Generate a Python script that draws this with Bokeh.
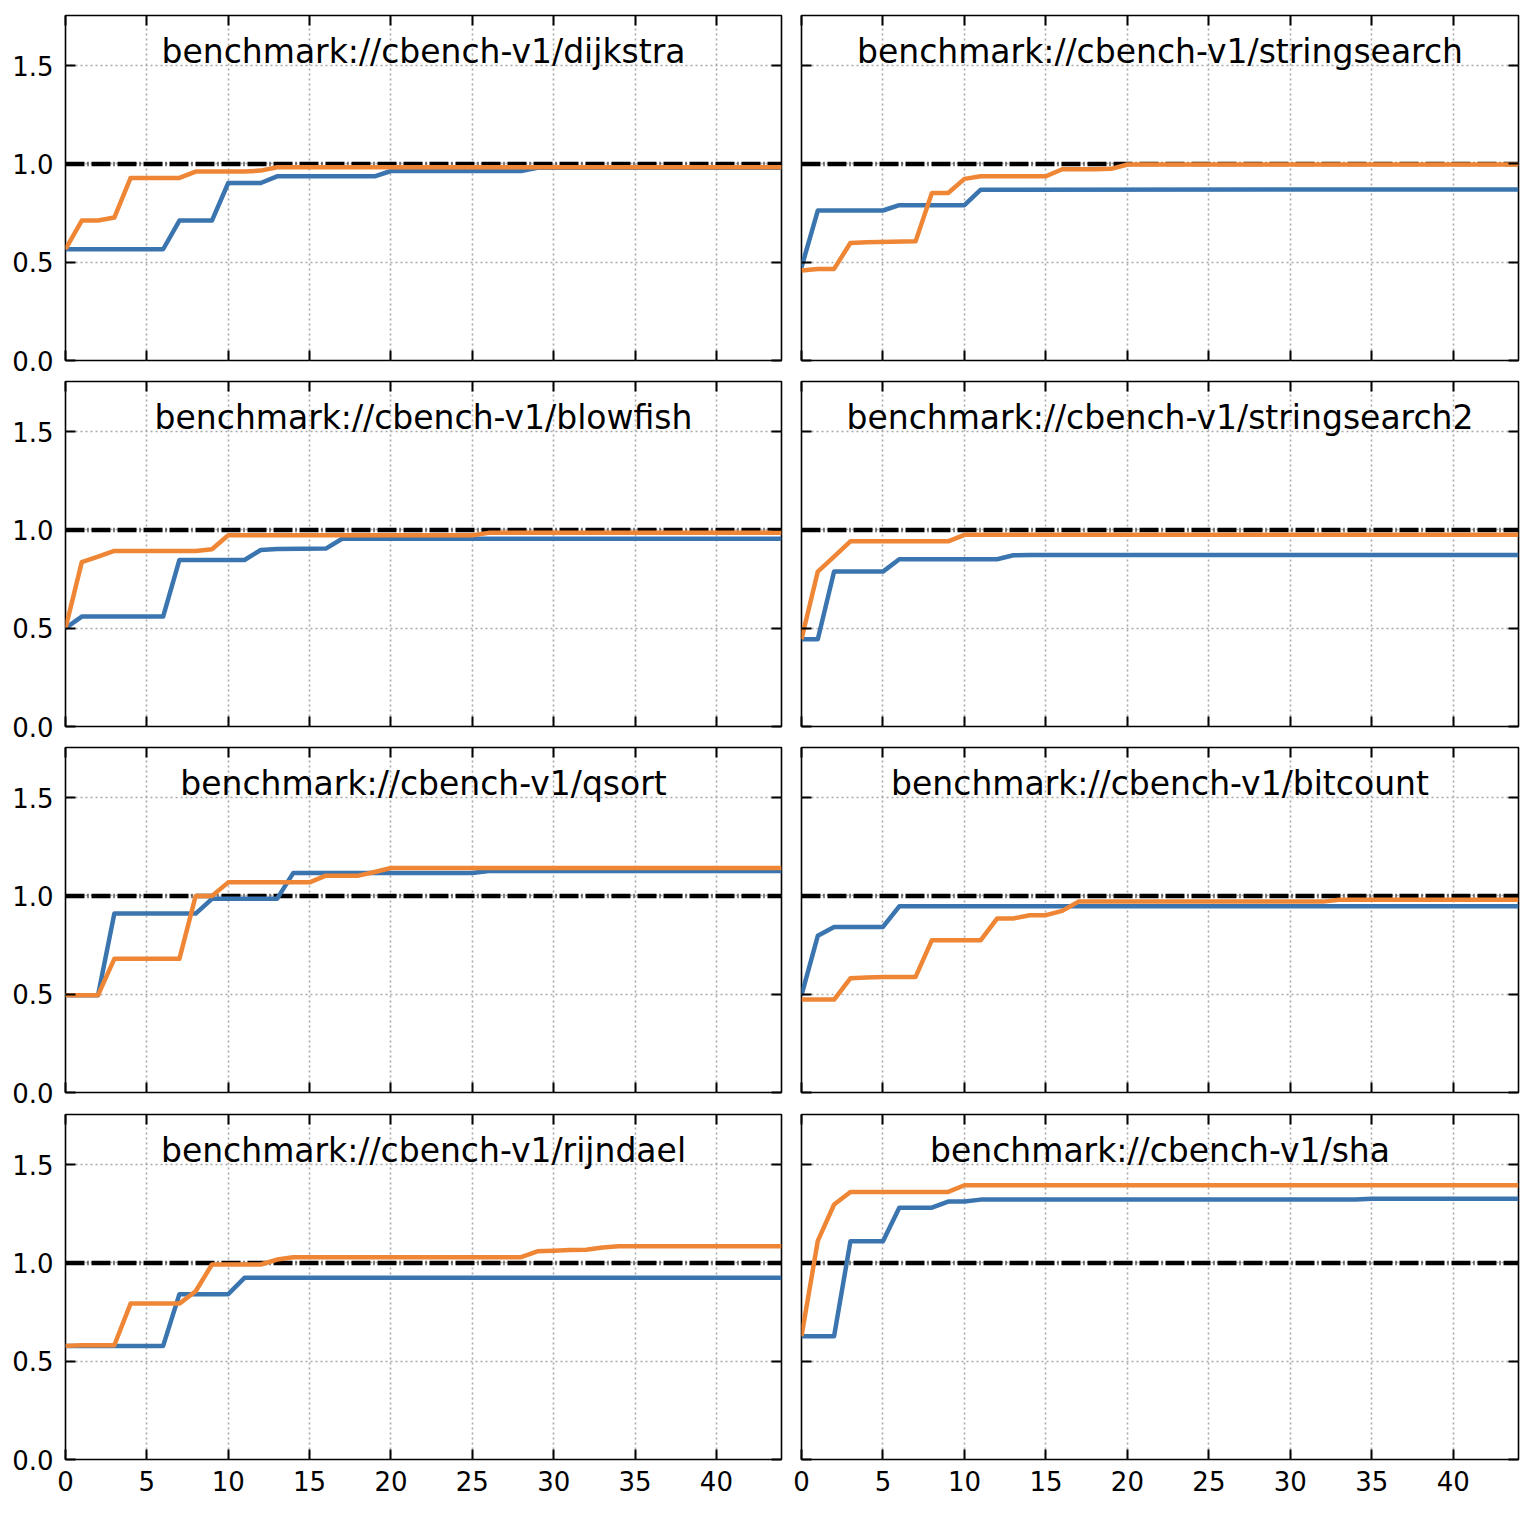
from bokeh.plotting import figure
from bokeh.models import (LinearAxis, FixedTicker, CustomJSTickFormatter, PrintfTickFormatter,
                          Label, Range1d, Span, Grid)
from bokeh.layouts import column, row
from bokeh.embed import file_html
from bokeh.resources import INLINE

FONT = "DejaVu Sans"
BLUE = "#3b75af"
ORANGE = "#ef8636"

X_TICKS = [0, 5, 10, 15, 20, 25, 30, 35, 40]
Y_TICKS = [0.0, 0.5, 1.0, 1.5]

# ---- data (x = step index, y = value), breakpoints ----
names = [
    "benchmark://cbench-v1/dijkstra",
    "benchmark://cbench-v1/stringsearch",
    "benchmark://cbench-v1/blowfish",
    "benchmark://cbench-v1/stringsearch2",
    "benchmark://cbench-v1/qsort",
    "benchmark://cbench-v1/bitcount",
    "benchmark://cbench-v1/rijndael",
    "benchmark://cbench-v1/sha",
]

dijkstra_blue_x = [0, 6, 7, 9, 10, 12, 13, 19, 20, 28, 29, 44]
dijkstra_blue_y = [0.566, 0.566, 0.712, 0.712, 0.903, 0.903, 0.937, 0.937, 0.964, 0.964, 0.98, 0.98]
dijkstra_orange_x = [0, 1, 2, 3, 4, 7, 8, 11, 12, 13, 44]
dijkstra_orange_y = [0.566, 0.712, 0.712, 0.727, 0.929, 0.929, 0.961, 0.961, 0.966, 0.983, 0.983]

stringsearch_blue_x = [0, 1, 5, 6, 10, 11, 44]
stringsearch_blue_y = [0.474, 0.763, 0.763, 0.79, 0.79, 0.869, 0.87]
stringsearch_orange_x = [0, 1, 2, 3, 4, 7, 8, 9, 10, 11, 15, 16, 18, 19, 20, 44]
stringsearch_orange_y = [0.458, 0.466, 0.466, 0.598, 0.601, 0.606, 0.852, 0.852, 0.924, 0.937,
                         0.937, 0.973, 0.973, 0.975, 0.997, 0.997]

blowfish_blue_x = [0, 1, 6, 7, 11, 12, 13, 16, 17, 44]
blowfish_blue_y = [0.5, 0.559, 0.559, 0.847, 0.847, 0.898, 0.903, 0.905, 0.955, 0.955]
blowfish_orange_x = [0, 1, 2, 3, 8, 9, 10, 25, 26, 44]
blowfish_orange_y = [0.5, 0.836, 0.864, 0.893, 0.893, 0.902, 0.973, 0.973, 0.985, 0.985]

stringsearch2_blue_x = [0, 1, 2, 5, 6, 12, 13, 14, 44]
stringsearch2_blue_y = [0.444, 0.444, 0.788, 0.788, 0.851, 0.851, 0.871, 0.873, 0.873]
stringsearch2_orange_x = [0, 1, 2, 3, 9, 10, 44]
stringsearch2_orange_y = [0.444, 0.788, 0.864, 0.942, 0.942, 0.975, 0.975]

qsort_blue_x = [0, 2, 3, 8, 9, 13, 14, 25, 26, 44]
qsort_blue_y = [0.495, 0.495, 0.91, 0.91, 0.985, 0.985, 1.117, 1.117, 1.127, 1.127]
qsort_orange_x = [0, 2, 3, 7, 8, 9, 10, 15, 16, 18, 19, 20, 44]
qsort_orange_y = [0.495, 0.495, 0.68, 0.68, 1.0, 1.0, 1.069, 1.069, 1.103, 1.103, 1.122, 1.142, 1.142]

bitcount_blue_x = [0, 1, 2, 5, 6, 44]
bitcount_blue_y = [0.495, 0.797, 0.842, 0.842, 0.947, 0.947]
bitcount_orange_x = [0, 2, 3, 4, 5, 7, 8, 11, 12, 13, 14, 15, 16, 17, 32, 33, 44]
bitcount_orange_y = [0.473, 0.473, 0.581, 0.585, 0.588, 0.588, 0.775, 0.775, 0.885, 0.885,
                     0.902, 0.902, 0.924, 0.971, 0.971, 0.98, 0.98]

rijndael_blue_x = [0, 6, 7, 10, 11, 44]
rijndael_blue_y = [0.578, 0.578, 0.841, 0.841, 0.924, 0.924]
rijndael_orange_x = [0, 1, 3, 4, 7, 8, 9, 12, 13, 14, 28, 29, 30, 31, 32, 33, 34, 44]
rijndael_orange_y = [0.578, 0.581, 0.581, 0.793, 0.793, 0.856, 0.992, 0.992, 1.017, 1.029,
                     1.029, 1.059, 1.062, 1.066, 1.067, 1.078, 1.085, 1.085]

sha_blue_x = [0, 2, 3, 5, 6, 8, 9, 10, 11, 34, 35, 44]
sha_blue_y = [0.627, 0.627, 1.11, 1.11, 1.281, 1.281, 1.312, 1.312, 1.322, 1.322, 1.327, 1.327]
sha_orange_x = [0, 1, 2, 3, 9, 10, 44]
sha_orange_y = [0.627, 1.112, 1.297, 1.361, 1.361, 1.395, 1.395]

series = [
    (dijkstra_blue_x, dijkstra_blue_y, dijkstra_orange_x, dijkstra_orange_y),
    (stringsearch_blue_x, stringsearch_blue_y, stringsearch_orange_x, stringsearch_orange_y),
    (blowfish_blue_x, blowfish_blue_y, blowfish_orange_x, blowfish_orange_y),
    (stringsearch2_blue_x, stringsearch2_blue_y, stringsearch2_orange_x, stringsearch2_orange_y),
    (qsort_blue_x, qsort_blue_y, qsort_orange_x, qsort_orange_y),
    (bitcount_blue_x, bitcount_blue_y, bitcount_orange_x, bitcount_orange_y),
    (rijndael_blue_x, rijndael_blue_y, rijndael_orange_x, rijndael_orange_y),
    (sha_blue_x, sha_blue_y, sha_orange_x, sha_orange_y),
]


def style_axis(ax, ticks, show_labels, fmt=None):
    ax.ticker = FixedTicker(ticks=ticks, minor_ticks=[])
    ax.major_tick_in = 10
    ax.major_tick_out = 0
    ax.minor_tick_in = 0
    ax.minor_tick_out = 0
    ax.major_tick_line_color = "black"
    ax.major_tick_line_width = 2
    ax.axis_line_color = None
    if show_labels:
        if fmt is not None:
            ax.formatter = fmt
        ax.major_label_text_font = FONT
        ax.major_label_text_font_size = "26px"
        ax.major_label_text_color = "black"
    else:
        ax.formatter = CustomJSTickFormatter(code="return ''")
        ax.major_label_text_font_size = "1px"
        ax.major_label_standoff = 0


def make_panel(idx):
    col = idx % 2
    r = idx // 2
    bx, by, ox, oy = series[idx]
    p = figure(
        frame_width=716 if col == 0 else 717,
        frame_height=345,
        x_range=Range1d(0, 44), y_range=Range1d(0, 1.755),
        x_axis_location=None, y_axis_location=None,
        output_backend="svg", toolbar_location=None,
        min_border_left=65 if col == 0 else 10,
        min_border_right=10 if col == 0 else 5,
        min_border_top=[15, 4, 4, 5][r],
        min_border_bottom=45 if r == 3 else 17,
        background_fill_color="white", border_fill_color="white",
    )
    p.outline_line_color = "black"
    p.outline_line_width = 1.6
    p.xgrid.visible = False
    p.ygrid.visible = False

    xg = Grid(dimension=0, ticker=FixedTicker(ticks=X_TICKS, minor_ticks=[]),
              grid_line_color="#a8a8a8", grid_line_width=1.6, grid_line_dash="2 3")
    yg = Grid(dimension=1, ticker=FixedTicker(ticks=Y_TICKS, minor_ticks=[]),
              grid_line_color="#a8a8a8", grid_line_width=1.6, grid_line_dash="2 3")
    p.add_layout(xg)
    p.add_layout(yg)

    below = LinearAxis()
    style_axis(below, X_TICKS, r == 3, PrintfTickFormatter(format="%d"))
    below.major_label_standoff = 11 if r == 3 else 0
    p.add_layout(below, "below")

    left = LinearAxis()
    style_axis(left, Y_TICKS, col == 0, PrintfTickFormatter(format="%.1f"))
    left.major_label_standoff = 12 if col == 0 else 0
    p.add_layout(left, "left")

    above = LinearAxis()
    style_axis(above, X_TICKS, False)
    p.add_layout(above, "above")

    right = LinearAxis()
    style_axis(right, Y_TICKS, False)
    p.add_layout(right, "right")

    ref = Span(location=1.0, dimension="width", line_color="black", line_width=4.5,
               line_dash="19 3 1 3", level="underlay")
    p.add_layout(ref)

    p.line(bx, by, line_color=BLUE, line_width=4.5, line_join="round")
    p.line(ox, oy, line_color=ORANGE, line_width=4.5, line_join="round")

    title = Label(x=22, y=1.573, text=names[idx], text_align="center",
                  text_baseline="alphabetic", text_font=FONT,
                  text_font_size="33px", text_color="black")
    p.add_layout(title)
    return p


panels = [make_panel(i) for i in range(8)]
layout = column(
    row(panels[0], panels[1]),
    row(panels[2], panels[3]),
    row(panels[4], panels[5]),
    row(panels[6], panels[7]),
)

with open("out.html", "w") as f:
    f.write(file_html(layout, INLINE))
